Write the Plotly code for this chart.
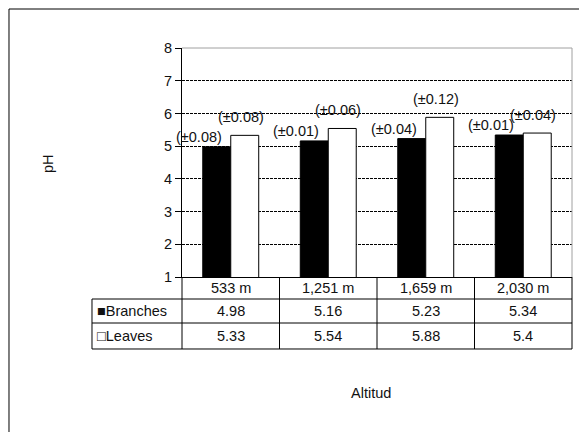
import plotly.graph_objects as go

categories = ["533 m", "1,251 m", "1,659 m", "2,030 m"]
branches = [4.98, 5.16, 5.23, 5.34]
leaves = [5.33, 5.54, 5.88, 5.4]
branches_err = [0.08, 0.01, 0.04, 0.01]
leaves_err = [0.08, 0.06, 0.12, 0.04]
y_ticks = [1, 2, 3, 4, 5, 6, 7, 8]

FONT = "Liberation Sans, Arial, sans-serif"
FS = 14.5

fig = go.Figure()
fig.add_trace(go.Bar(x=list(range(len(categories))), y=branches, name="Branches",
                     marker=dict(color="black", line=dict(color="black", width=1))))
fig.add_trace(go.Bar(x=list(range(len(categories))), y=leaves, name="Leaves",
                     marker=dict(color="white", line=dict(color="black", width=1))))

ann = []
# error labels above bars
bw = (1 - 0.426) / 2
for i in range(len(categories)):
    ann.append(dict(x=i - bw / 2, y=branches[i], xref="x", yref="y", text=f"(±{branches_err[i]:.2f})",
                    showarrow=False, yanchor="bottom", xanchor="center", xshift=-18, yshift=0))
    ann.append(dict(x=i + bw / 2, y=leaves[i], xref="x", yref="y", text=f"(±{leaves_err[i]:.2f})",
                    showarrow=False, yanchor="bottom", xanchor="center", xshift=-4, yshift=8))

# table rows (paper y centers)
row_cat, row_b, row_l = -0.048, -0.1485, -0.2576
for i, c in enumerate(categories):
    for yy, t in [(row_cat, c), (row_b, f"{branches[i]:g}"), (row_l, f"{leaves[i]:g}")]:
        ann.append(dict(x=i, y=yy, xref="x", yref="paper", text=t, showarrow=False,
                        xanchor="center", yanchor="middle"))
ann.append(dict(x=-0.222, y=row_b, xref="paper", yref="paper", text="■Branches", showarrow=False,
                xanchor="left", yanchor="middle"))
ann.append(dict(x=-0.222, y=row_l, xref="paper", yref="paper", text="□Leaves", showarrow=False,
                xanchor="left", yanchor="middle"))

# axis titles
ann.append(dict(x=-0.3436, y=0.4978, xref="paper", yref="paper", text="pH", showarrow=False, textangle=-90,
                xanchor="center", yanchor="middle"))
ann.append(dict(x=0.4846, y=-0.5066, xref="paper", yref="paper", text="Altitud", showarrow=False,
                xanchor="center", yanchor="middle"))

shapes = []
line_k = dict(color="black", width=1)
# table horizontals
for yy in [-0.0961, -0.2009, -0.3144]:
    shapes.append(dict(type="line", xref="paper", yref="paper", x0=-0.2308, x1=1, y0=yy, y1=yy, line=line_k))
# table verticals
shapes.append(dict(type="line", xref="paper", yref="paper", x0=-0.2308, x1=-0.2308, y0=-0.0961, y1=-0.3144, line=line_k))
shapes.append(dict(type="line", xref="paper", yref="paper", x0=0, x1=0, y0=0, y1=-0.3144, line=line_k))
shapes.append(dict(type="line", xref="paper", yref="paper", x0=1, x1=1, y0=0, y1=-0.3144, line=line_k))
for b in [0.5, 1.5, 2.5]:
    shapes.append(dict(type="line", xref="x", yref="paper", x0=b, x1=b, y0=0, y1=-0.3144, line=line_k))
# plot area top & right borders (gray)
shapes.append(dict(type="line", xref="paper", yref="paper", x0=0, x1=1, y0=1, y1=1, line=dict(color="#a0a0a0", width=1)))
shapes.append(dict(type="line", xref="paper", yref="paper", x0=1, x1=1, y0=0, y1=1, line=dict(color="#a0a0a0", width=1)))
# outer chart border
shapes.append(dict(type="rect", xref="paper", yref="paper", x0=-0.4436, x1=1.3, y0=-1.0, y1=1.1703,
                   line=dict(color="black", width=1), fillcolor="rgba(0,0,0,0)"))

fig.update_layout(
    width=579, height=424,
    margin=dict(l=174, r=15, t=40, b=155),
    paper_bgcolor="white", plot_bgcolor="white",
    barmode="group", bargap=0.426, bargroupgap=0,
    showlegend=False,
    font=dict(family=FONT, size=FS, color="#111111"),
    annotations=ann, shapes=shapes,
    xaxis=dict(range=[-0.5, 3.5], showticklabels=False, ticks="", showgrid=False,
               showline=True, linecolor="black", linewidth=1, zeroline=False),
    yaxis=dict(range=[1, 8], tickvals=y_ticks, ticks="outside", ticklen=6, tickcolor="black",
               showline=True, linecolor="black", linewidth=1, zeroline=False,
               showgrid=True, gridcolor="black", gridwidth=1, griddash="3px,1px",
               tickfont=dict(family=FONT, size=FS, color="#111111")),
)

fig.write_html("out.html")
